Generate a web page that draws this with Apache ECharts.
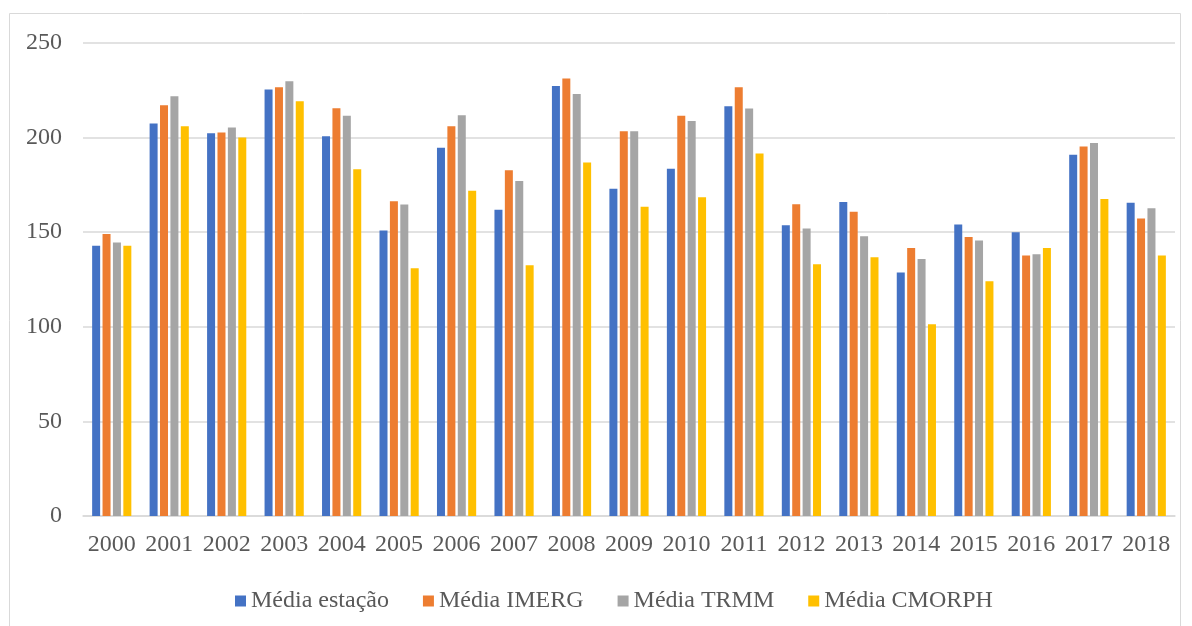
<!DOCTYPE html>
<html>
<head>
<meta charset="utf-8">
<script src="https://cdn.jsdelivr.net/npm/echarts@6/dist/echarts.min.js"></script>
<style>
html,body{margin:0;padding:0;background:#fff;}
#c{width:1192px;height:626px;}
</style>
</head>
<body>
<div id="c"></div>
<script>
const years = ['2000','2001','2002','2003','2004','2005','2006','2007','2008','2009','2010','2011','2012','2013','2014','2015','2016','2017','2018'];
const mediaEstacao = [142.8,207.4,202.3,225.4,200.7,150.9,194.6,161.8,227.3,172.9,183.5,216.6,153.7,165.9,128.7,154.1,150.0,190.9,165.5];
const mediaIMERG   = [149.0,217.1,202.7,226.6,215.5,166.4,206.0,182.8,231.2,203.4,211.5,226.6,164.8,160.8,141.7,147.5,137.7,195.3,157.3];
const mediaTRMM    = [144.6,221.9,205.3,229.8,211.5,164.7,211.8,177.0,223.1,203.4,208.8,215.4,152.0,147.9,135.8,145.6,138.4,197.2,162.7];
const mediaCMORPH  = [142.8,206.0,200.0,219.2,183.3,131.0,171.9,132.5,186.9,163.4,168.5,191.6,133.1,136.7,101.4,124.1,141.7,167.5,137.7];
const seriesNames = ['Média estação','Média IMERG','Média TRMM','Média CMORPH'];
const colors = ['#4472c4','#ed7d31','#a5a5a5','#ffc000'];

const chart = echarts.init(document.getElementById('c'), null, {renderer:'canvas'});
const font = 'Liberation Serif';
const dataSets = [mediaEstacao, mediaIMERG, mediaTRMM, mediaCMORPH];
chart.setOption({
  animation:false,
  color: colors,
  textStyle:{fontFamily:font},
  graphic:[{type:'rect',shape:{x:9.5,y:13.5,width:1171,height:620},style:{fill:'none',stroke:'#d9d9d9',lineWidth:1},silent:true}],
  grid:{left:83,right:17,top:43,bottom:110},
  legend:{
    top:584,left:230,
    itemWidth:11,itemHeight:11,itemGap:34,
    icon:'rect',
    textStyle:{fontFamily:font,fontSize:24,color:'#595959'},
    data:seriesNames
  },
  xAxis:{
    type:'category',data:years,
    axisLine:{lineStyle:{color:'#d9d9d9',width:1.5}},
    axisTick:{show:false},
    axisLabel:{fontFamily:font,fontSize:24,color:'#595959',margin:17,interval:0,hideOverlap:false}
  },
  yAxis:{
    type:'value',min:0,max:250,interval:50,
    axisLine:{show:false},axisTick:{show:false},
    splitLine:{lineStyle:{color:'#d9d9d9',width:1.5}},
    axisLabel:{fontFamily:font,fontSize:24,color:'#595959',margin:21}
  },
  series: seriesNames.map((n,i)=>({
    name:n,type:'bar',data:dataSets[i],
    barWidth:8,barGap:'30%',
    itemStyle:{color:colors[i]}
  }))
});
</script>
</body>
</html>
